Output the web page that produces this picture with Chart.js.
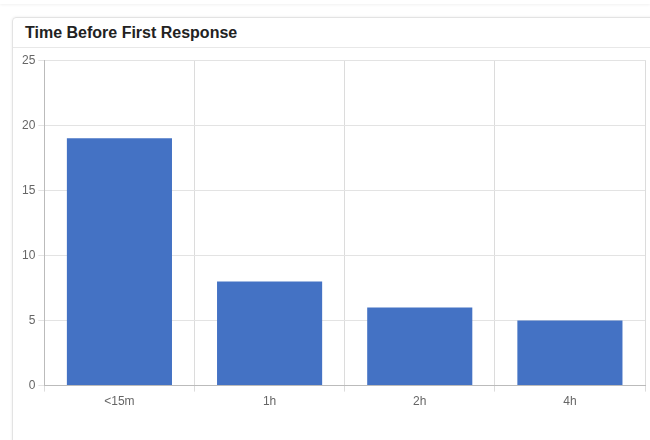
<!DOCTYPE html>
<html>
<head>
<meta charset="utf-8">
<script src="https://cdn.jsdelivr.net/npm/chart.js@4"></script>
<style>
  body { margin: 0; background: #fff; font-family: "Open Sans", Arial, sans-serif; }
  .card { position: absolute; left: 12px; top: 17px; width: 660px; height: 440px;
          border: 1px solid #e3e3e3; border-radius: 4px; box-shadow: 0 0 3px rgba(0,0,0,0.08); }
  .card h3 { margin: 0; padding: 6px 12px 0 12px; height: 23px; font-size: 16px; font-weight: bold;
             color: #222; border-bottom: 1px solid #e8e8e8; font-family: "Liberation Sans", Arial, sans-serif; }
  .wrap { position: absolute; left: 0; top: 32px; width: 638px; height: 380px; }
  .top { position: absolute; left: 0; top: 0; width: 650px; height: 4px; box-shadow: 0 1px 3px rgba(0,0,0,0.06); }
</style>
</head>
<body>
<div class="top"></div>
<div class="card">
  <h3>Time Before First Response</h3>
  <div class="wrap"><canvas id="chart"></canvas></div>
</div>
<script>
// 集計データ
const categories = ['<15m', '1h', '2h', '4h'];
const counts = [19, 8, 6, 5];
const yTicks = { min: 0, max: 25, step: 5 };

new Chart(document.getElementById('chart'), {
  type: 'bar',
  data: {
    labels: categories,
    datasets: [{
      data: counts,
      backgroundColor: '#4472c4',
      categoryPercentage: 0.7,
      barPercentage: 1.0,
    }],
  },
  options: {
    responsive: true,
    maintainAspectRatio: false,
    animation: false,
    layout: { padding: { left: 6, top: 3, right: 6, bottom: 18 } },
    scales: {
      x: {
        grid: { color: '#dcdcdc', offset: true, tickLength: 6 },
        border: { color: '#bbb' },
        ticks: { color: '#666', font: { size: 12 } },
      },
      y: {
        min: yTicks.min, max: yTicks.max,
        grid: { color: '#e3e3e3', tickLength: 6 },
        border: { color: '#bbb' },
        ticks: { stepSize: yTicks.step, color: '#666', font: { size: 12 } },
      },
    },
    plugins: { legend: { display: false }, tooltip: { enabled: false } },
  },
});
</script>
</body>
</html>
